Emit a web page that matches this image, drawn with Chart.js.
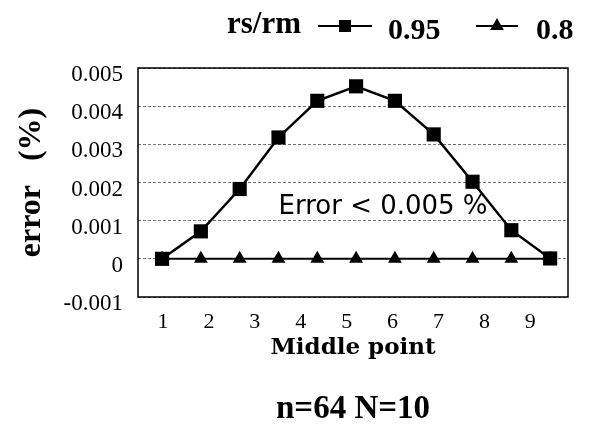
<!DOCTYPE html>
<html>
<head>
<meta charset="utf-8">
<title>error vs Middle point</title>
<script src="https://cdn.jsdelivr.net/npm/chart.js@4.4.0/dist/chart.umd.min.js"></script>
<style>
    html, body { margin: 0; padding: 0; background: #fff; }
</style>
</head>
<body>
<canvas id="chartError" width="600" height="426"></canvas>
<script>
// Datos
const puntos = [1, 2, 3, 4, 5, 6, 7, 8, 9, 10, 11];
const error095 = [0.00000, 0.00072, 0.00183, 0.00318, 0.00414, 0.00452, 0.00414, 0.00326, 0.00202, 0.00075, 0.00001];
const error08 = [0, 0, 0, 0, 0, 0, 0, 0, 0, 0, 0];
const nombresSeries = ['0.95', '0.8'];
const xTickLabels = ['1', '2', '3', '4', '5', '6', '7', '8', '9'];
const yTickLabels = ['-0.001', '0', '0.001', '0.002', '0.003', '0.004', '0.005'];

// Borde negro alrededor del área del gráfico
const bordePlugin = {
    id: 'bordeArea',
    beforeDatasetsDraw(chart) {
        const { ctx, chartArea } = chart;
        ctx.save();
        ctx.strokeStyle = '#000';
        ctx.lineWidth = 1.5;
        ctx.strokeRect(chartArea.left, chartArea.top, chartArea.right - chartArea.left, chartArea.bottom - chartArea.top);
        ctx.restore();
    }
};

// Texto "Error < 0.005 %" dentro del gráfico
const notaPlugin = {
    id: 'notaError',
    beforeDatasetsDraw(chart, args, opts) {
        const { ctx, scales } = chart;
        ctx.save();
        ctx.font = opts.font;
        ctx.fillStyle = '#000';
        ctx.textBaseline = 'alphabetic';
        ctx.fillText(opts.text, scales.x.getPixelForValue(opts.xValue), scales.y.getPixelForValue(opts.yValue));
        ctx.restore();
    }
};

// Leyenda superior: rs/rm -■- 0.95 -▲- 0.8
const leyendaPlugin = {
    id: 'leyendaSuperior',
    afterDraw(chart, args, opts) {
        const ctx = chart.ctx;
        ctx.save();
        ctx.fillStyle = '#000';
        ctx.textBaseline = 'alphabetic';
        ctx.font = opts.titleFont;
        ctx.fillText(opts.title, opts.titleX, opts.titleY);

        ctx.font = opts.font;
        chart.data.datasets.forEach((ds, i) => {
            const item = opts.items[i];
            ctx.strokeStyle = ds.borderColor;
            ctx.lineWidth = 2;
            ctx.beginPath();
            ctx.moveTo(item.x0, opts.lineY);
            ctx.lineTo(item.x1, opts.lineY);
            ctx.stroke();
            ctx.fillStyle = '#000';
            Chart.helpers.drawPoint(ctx, { pointStyle: ds.pointStyle, radius: item.radius, borderWidth: 0 }, (item.x0 + item.x1) / 2, opts.lineY);
            ctx.fillText(ds.label, item.textX, opts.textY);
        });
        ctx.restore();
    }
};

const ctx = document.getElementById('chartError').getContext('2d');
const chartError = new Chart(ctx, {
    type: 'line',
    data: {
        datasets: [
            {
                label: nombresSeries[0],
                data: puntos.map((p, i) => ({ x: p, y: error095[i] })),
                borderColor: '#000',
                borderWidth: 2.5,
                pointStyle: 'rect',
                pointRadius: 10,
                pointBackgroundColor: '#000',
                pointBorderWidth: 0,
                tension: 0
            },
            {
                label: nombresSeries[1],
                data: puntos.map((p, i) => ({ x: p, y: error08[i] })),
                borderColor: '#000',
                borderWidth: 2,
                pointStyle: 'triangle',
                pointRadius: 8,
                pointBackgroundColor: '#000',
                pointBorderWidth: 0,
                tension: 0
            }
        ]
    },
    options: {
        responsive: false,
        animation: false,
        devicePixelRatio: 1,
        layout: { padding: { top: 68, right: 32, left: 0, bottom: 0 } },
        scales: {
            x: {
                type: 'linear',
                display: false,
                min: 0.38,
                max: 11.46
            },
            xTicks: {
                type: 'linear',
                position: 'bottom',
                min: 0.455,
                max: 9.82,
                grid: { display: false, drawTicks: false },
                border: { display: false },
                ticks: {
                    stepSize: 1,
                    includeBounds: false,
                    padding: 12,
                    color: '#000',
                    font: { family: 'Liberation Serif', size: 22 },
                    callback: (v, i) => xTickLabels[i]
                },
                title: {
                    display: true,
                    text: 'Middle point',
                    color: '#000',
                    font: { family: 'DejaVu Serif', size: 23, weight: 'bold' },
                    padding: { top: 0, bottom: 31 }
                },
                afterFit(scale) { scale.height = 96; }
            },
            y: {
                min: -0.001,
                max: 0.005,
                grid: { color: 'rgba(0,0,0,0.55)', lineWidth: 1, drawTicks: false },
                border: { display: false, dash: [3, 2] },
                ticks: {
                    stepSize: 0.001,
                    padding: 15,
                    labelOffset: 7,
                    color: '#000',
                    font: { family: 'Liberation Serif', size: 23 },
                    callback: (v, i) => yTickLabels[i]
                },
                title: {
                    display: true,
                    text: 'error   (%)',
                    color: '#000',
                    font: { family: 'Liberation Serif', size: 32, weight: 'bold' },
                    padding: { top: 13, bottom: 0 }
                },
                afterFit(scale) { scale.width = 138; }
            }
        },
        plugins: {
            legend: { display: false },
            tooltip: { enabled: false },
            title: {
                display: true,
                fullSize: false,
                text: 'n=64 N=10',
                position: 'bottom',
                color: '#000',
                font: { family: 'Liberation Serif', size: 33, weight: 'bold', lineHeight: 1 },
                padding: 0
            },
            notaError: {
                text: 'Error < 0.005 %',
                font: '26px "DejaVu Sans"',
                xValue: 4.0,
                yValue: 0.00118
            },
            leyendaSuperior: {
                title: 'rs/rm',
                titleFont: 'bold 31px "Liberation Serif"',
                titleX: 227,
                titleY: 33,
                font: 'bold 30px "Liberation Serif"',
                lineY: 26,
                textY: 39,
                items: [
                    { x0: 318, x1: 372, radius: 8.5, textX: 388 },
                    { x0: 476, x1: 518, radius: 8, textX: 536 }
                ]
            }
        }
    },
    plugins: [bordePlugin, notaPlugin, leyendaPlugin]
});
</script>
</body>
</html>
